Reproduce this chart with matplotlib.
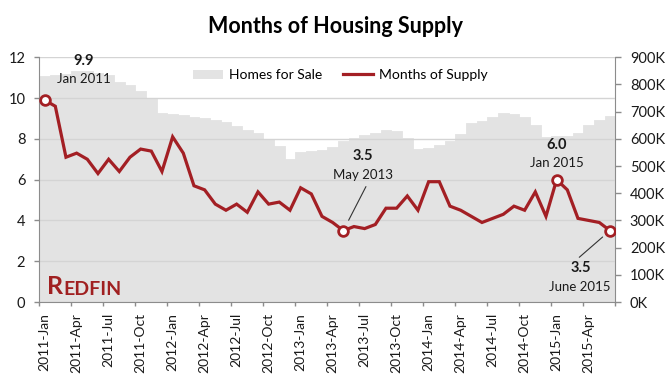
import numpy as np
import matplotlib
matplotlib.use("Agg")
import matplotlib.pyplot as plt
from matplotlib.patches import Patch
from matplotlib.lines import Line2D

plt.rcParams['font.family'] = ['Lato', 'DejaVu Sans']

# months of supply, 2011-Jan .. 2015-Jun
supply = [9.9, 9.6, 7.1, 7.3, 7.0, 6.3, 7.0, 6.4, 7.1, 7.5, 7.4, 6.4,
          8.1, 7.3, 5.7, 5.5, 4.8, 4.5, 4.8, 4.4, 5.4, 4.8, 4.9, 4.5,
          5.6, 5.3, 4.2, 3.9, 3.5, 3.7, 3.6, 3.8, 4.6, 4.6, 5.2, 4.5,
          5.9, 5.9, 4.7, 4.5, 4.2, 3.9, 4.1, 4.3, 4.7, 4.5, 5.4, 4.2,
          6.0, 5.5, 4.1, 4.0, 3.9, 3.5]

# homes for sale (thousands)
homes = [831, 836, 840, 850, 850, 842, 835, 810, 798, 777, 749, 696,
         691, 688, 680, 677, 669, 662, 647, 633, 622, 601, 574, 527,
         552, 555, 559, 570, 592, 602, 613, 622, 633, 629, 602, 562,
         568, 577, 592, 618, 658, 666, 680, 694, 690, 680, 651, 606,
         612, 612, 622, 650, 669, 684]

tick_labels = ['2011-Jan', '2011-Apr', '2011-Jul', '2011-Oct',
               '2012-Jan', '2012-Apr', '2012-Jul', '2012-Oct',
               '2013-Jan', '2013-Apr', '2013-Jul', '2013-Oct',
               '2014-Jan', '2014-Apr', '2014-Jul', '2014-Oct',
               '2015-Jan', '2015-Apr']

# highlighted points: (index, value label, date label)
callouts = [(0, '9.9', 'Jan 2011'), (28, '3.5', 'May 2013'),
            (48, '6.0', 'Jan 2015'), (53, '3.5', 'June 2015')]

red = '#A31F24'
gray_fill = '#E3E3E3'
axis_gray = '#8C8C8C'
txt = '#1A1A1A'

x = np.arange(len(supply))

fig = plt.figure(figsize=(6.72, 3.81), dpi=100)
ax = fig.add_axes([39.3 / 672, 79 / 381, 576 / 672, 244.7 / 381])
ax2 = ax.twinx()

ax2.bar(x, homes, width=1.0, color=gray_fill, edgecolor=gray_fill, linewidth=0.6)
ax2.set_ylim(0, 900)
ax2.set_yticks(np.arange(0, 1000, 100))
ax2.set_yticklabels([f'{v}K' for v in range(0, 1000, 100)])

ax.set_zorder(ax2.get_zorder() + 1)
ax.patch.set_visible(False)

ax.plot(x, supply, color=red, lw=2.3, solid_joinstyle='miter', zorder=3)
for i, v, d in callouts:
    ax.plot(x[i], supply[i], 'o', ms=7, mfc='white', mec=red, mew=2, zorder=4)

ax.set_xlim(-0.5, len(supply) - 0.5)
ax.set_ylim(0, 12)
ax.set_yticks(np.arange(0, 13, 2))
ax.grid(axis='y', color='#D4D4D4', lw=1)
ax.set_axisbelow(True)

ax.set_xticks(np.arange(-0.5, len(supply), 3))
ax.set_xticklabels([])
ax.set_xticks(np.arange(0, len(supply), 3), minor=True)
ax.set_xticklabels(tick_labels, minor=True, rotation=90, va='top', ha='center')

for a in (ax, ax2):
    for s in a.spines.values():
        s.set_color(axis_gray)
    a.spines['top'].set_visible(False)
ax.spines['right'].set_visible(False)
ax2.spines['left'].set_visible(False)
ax2.spines['bottom'].set_visible(False)

ax.tick_params(axis='y', length=3.6, width=1, color=axis_gray, pad=6.5,
               labelsize=10.5, labelcolor=txt)
ax.tick_params(axis='x', which='major', length=3, width=1, color=axis_gray)
ax.tick_params(axis='x', which='minor', length=0, pad=8, labelsize=10,
               labelcolor=txt)
ax2.tick_params(axis='y', length=4, width=1, color=axis_gray, pad=6.5,
                labelsize=10.5, labelcolor=txt)

# callout labels
offsets = {0: ((28, 28.5), (28, 15)), 28: ((14.3, 53.8), (14, 40.3)),
           48: ((0, 25.2), (0, 12)), 53: ((-21, -27), (-21.6, -40.3))}
for i, v, d in callouts:
    (vx, vy), (dx, dy) = offsets[i]
    ax.annotate(v, (x[i], supply[i]), xytext=(vx, vy), textcoords='offset points',
                ha='center', va='center', fontsize=10.5, fontweight='bold', color=txt)
    ax.annotate(d, (x[i], supply[i]), xytext=(dx, dy), textcoords='offset points',
                ha='center', va='center', fontsize=9.5, color=txt)

ax.annotate('', (x[28], supply[28]), xytext=(16.3, 31.7), textcoords='offset points',
            arrowprops=dict(arrowstyle='-', color='#333333', lw=0.8,
                            shrinkA=0, shrinkB=8.4))
ax.annotate('', (x[53], supply[53]), xytext=(-22.1, -19.2), textcoords='offset points',
            arrowprops=dict(arrowstyle='-', color='#333333', lw=0.8,
                            shrinkA=0, shrinkB=7))

# legend
handles = [Patch(facecolor=gray_fill, edgecolor='none'),
           Line2D([0], [0], color=red, lw=2.3)]
fig.legend(handles, ['Homes for Sale', 'Months of Supply'], loc='center',
           bbox_to_anchor=(340 / 672, 1 - 75 / 381), ncol=2, frameon=False,
           fontsize=10, handlelength=2.2, handleheight=0.6, columnspacing=1.5,
           handletextpad=0.4)

# Redfin logo
r = ax.text(0.013, 0.033, 'R', transform=ax.transAxes, color='#A02021',
            fontsize=18, fontweight='bold', ha='left', va='baseline')
ax.annotate('EDFIN', xy=(1, 0), xycoords=r, color='#A02021', fontsize=14,
            fontweight='bold', ha='left', va='bottom')

fig.suptitle('Months of Housing Supply', x=0.5, y=1 - 26.7 / 381, va='center',
             fontsize=15.5, fontweight='bold', color='black')

fig.savefig('out.png', dpi=100)
